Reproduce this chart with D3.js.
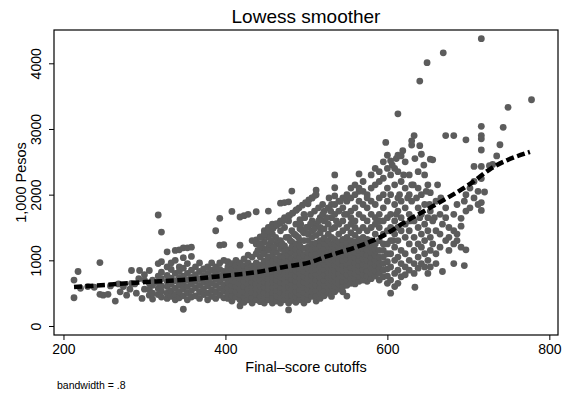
<!DOCTYPE html>
<html>
<head>
<meta charset="utf-8">
<script src="https://cdn.jsdelivr.net/npm/d3@7"></script>
<style>
  body { margin: 0; background: #fff; }
  text { font-family: Arial, "Liberation Sans", sans-serif; fill: #000; }
</style>
</head>
<body>
<script>
// scatter points: [cutoff, pesos]
const lowScores = [
  [213,430],[213,700],[218,830],[221,575],[230,600],[238,590],[245,965],[245,483],
  [249,470],[255,483],[258,610],[264,380],[268,640],[270,520],[274,600],[278,470],
  [282,560],[284,845],[284,650],[288,640],[290,500],[293,720],[294,845],[297,420],
  [300,560],[300,700],[300,780]
];

// columns of the denser cloud: [cutoff, [pesos...]]
const midColumns = [
  [306,[845,470,560,650]],
  [310,[410,500,620,700]],
  [317,[1690,950,480,570,660,760]],
  [321,[1430,980,440,530,610,720,820]],
  [328,[1130,900,420,500,600,680,770]],
  [333,[960,450,540,640,730,860]],
  [338,[1150,1000,400,480,580,690,800]],
  [343,[1160,900,430,520,620,730,830]],
  [348,[1190,255,1040,460,560,660,760,880]],
  [353,[1190,400,500,600,700,800,950]],
  [358,[1200,1060,440,540,640,740,850]],
  [363,[900,460,580,680,780]],
  [368,[960,420,520,620,720,830]],
  [373,[870,480,570,670,770]],
  [378,[900,400,500,610,700,800]],
  [383,[960,450,550,650,750,850]],
  [388,[1450,900,420,520,620,720,810]],
  [393,[1230,1640,960,470,570,670,760,860]],
  [398,[1240,1000,430,530,630,730,830]],
  [403,[980,420,500,580,660,740,820,900]],
  [408,[1745,950,380,460,540,620,700,780,860]],
  [413,[1000,440,520,600,680,760,840,920]],
  [418,[1660,1230,305,400,480,560,640,720,800,880,960]],
  [423,[1680,1020,360,440,520,600,680,760,840,920]],
  [428,[1700,1080,400,480,560,640,720,800,880,960]],
  [433,[1050,1300,350,430,510,590,670,750,830,910]],
  [438,[1740,1250,1100,400,480,560,640,720,800,880,960]],
  [443,[1350,1150,370,450,530,610,690,770,850,930,1050]],
  [448,[1450,1280,1100,350,430,510,590,670,750,830,910,990]],
  [453,[1750,1500,1350,1200,400,480,560,640,720,800,880,960,1050]],
  [458,[1550,1400,1150,350,430,510,590,670,750,830,910,990,1080]],
  [463,[1560,1250,380,460,540,620,700,780,860,940,1020,1120]],
  [468,[1870,1600,1450,1300,350,430,510,590,670,750,830,910,990,1070,1180]],
  [473,[1880,1650,1500,1220,400,480,560,640,720,800,880,960,1050,1130]],
  [478,[245,1890,1600,1350,350,430,510,590,670,750,830,910,990,1070,1160]],
  [482,[2055,1450,1280,390,470,550,630,710,790,870,950,1030,1120,1200]],
  [487,[1550,1380,360,440,520,600,680,760,840,920,1000,1080,1170,1250]],
  [492,[1620,1300,1480,400,480,560,640,720,800,880,960,1040,1130,1220]],
  [497,[1700,1420,350,430,510,590,670,750,830,910,990,1080,1180,1300]],
  [502,[1860,1500,400,480,560,640,720,800,880,960,1040,1120,1200,1300,1400]],
  [507,[1950,1600,1350,450,530,610,690,770,850,930,1010,1090,1170,1250,1450]],
  [512,[2070,2000,1550,1380,380,460,540,620,700,780,860,940,1020,1100,1180,1260]],
  [517,[1500,1650,420,500,580,660,740,820,900,980,1060,1140,1220,1300,1420]],
  [522,[1750,1480,460,540,620,700,780,860,940,1020,1100,1180,1260,1340,1600]],
  [527,[1800,1550,500,580,660,740,820,900,980,1060,1140,1220,1300,1400]],
  [531,[1850,1650,1480,450,530,610,690,770,850,930,1010,1090,1170,1250,1350]],
  [535,[2300,2105,1980,1700,520,600,680,760,840,920,1000,1080,1160,1240,1320,1500]],
  [540,[1750,1550,560,640,720,800,880,960,1040,1120,1200,1280,1400]],
  [545,[1800,1600,520,600,680,760,840,920,1000,1080,1160,1240,1320,1450]],
  [550,[455,1900,1700,620,700,780,860,940,1020,1100,1180,1260,1350,1500]],
  [555,[1950,1750,1550,650,730,810,890,970,1050,1130,1210,1300,1420]],
  [560,[2000,1800,1600,640,720,800,880,960,1040,1120,1200,1280,1380,1500]],
  [565,[2315,1900,1700,680,760,840,920,1000,1080,1160,1240,1320,1450]],
  [570,[2050,1850,1650,700,780,860,940,1020,1100,1180,1260,1350,1500]],
  [575,[1800,1600,680,760,840,920,1000,1080,1160,1240,1320,1450]],
  [580,[2100,1900,1700,720,800,880,960,1040,1120,1200,1300,1500]],
  [585,[2150,1850,1650,760,840,920,1000,1080,1160,1250,1400]],
  [590,[2200,1950,1700,700,800,880,960,1050,1150,1300,1500]],
  [595,[2250,2000,1800,750,850,950,1050,1150,1250,1400,1600]],
  [598,[2795]],
  [600,[2400,2100,1900,650,760,870,980,1100,1250,1450,1650]]
];

// upper streaks and filler above the main cloud
const upperCloud = [
  [447,1370],[451,1410],[455,1450],[459,1490],[463,1530],[467,1560],[471,1600],[475,1640],
  [479,1680],[483,1720],[487,1760],[491,1800],[495,1840],[499,1880],[503,1920],[507,1950],
  [511,1990],[438,1310],[443,1355],[448,1400],[453,1450],[458,1495],[463,1540],[468,1590],
  [473,1630],[478,1680],[483,1720],[488,1770],
  [440,1150],[445,1200],[450,1160],[455,1250],[460,1200],[465,1300],[470,1250],[475,1350],
  [480,1300],[485,1400],[490,1350],[495,1450],[500,1500],[505,1550],[510,1480],[515,1600],
  [520,1700],[525,1650],[530,1750],[535,1850],[540,1900],[545,1950],[550,2000],[555,2100],
  [560,2150],[565,2050],[570,2200],[575,2000],[580,2300],[585,2400],[590,2350],[595,2500],
  [600,2600],[606,2450],[611,2550],[590,1600],[585,1550],[575,1950],[565,2100],[555,1650],
  [547,1700],[542,1900],[537,1600],[528,1950],[520,1850],[515,1800],[510,1750],[505,1700],
  [498,1650],[493,1550],[462,1350],[457,1300],[452,1150],[447,1100],[442,1250],
  [607,1300],[611,1700],[615,2000],[620,2300],[625,1950],[628,1600],[632,2150],[636,1950],
  [640,1650],[645,2450],[648,2050],[652,1850],[658,1650],[662,2150],[666,1950]
];

const highColumns = [
  [604,[500,2515,2300,2000,1700,1500,1300,1100,900,700]],
  [609,[2400,2150,1850,1600,1400,1200,1000,800,600]],
  [613,[3230,2600,2350,1950,1750,1500,1300,1050,850,650]],
  [617,[2590,2200,1900,1650,1450,1150,950,750]],
  [619,[2670]],
  [622,[2500,2100,1800,1550,1350,1100,900,780]],
  [627,[2300,2000,1700,1450,1250,1000,850]],
  [630,[2755,2820,2150,1900]],
  [633,[2900,1600,1350,1150,950,800]],
  [634,[590,2550]],
  [638,[2350,2100,1800,1500,1250,1050,880]],
  [640,[3730,2745]],
  [642,[2615,2000,1700,1400,1200,950]],
  [646,[2300,1850,1550,1300,1100,900]],
  [649,[4010]],
  [650,[2150,1650,1450,1000,800]],
  [653,[2540,2030,1750,1350,1150,900]],
  [656,[2530,1600,1250]],
  [660,[1900,1450,1100,950]],
  [665,[1700,1400,1200]],
  [668,[830,1550]],
  [669,[4160]],
  [672,[2900,1800,1650,1300]],
  [676,[1500,1350,1150]],
  [682,[2900,950,1700,1450,1250]],
  [686,[1850,1400,1300]],
  [691,[1640,1200,1520]],
  [695,[920,1900]],
  [697,[2835,1750,2000,1160]],
  [702,[2100,1800]],
  [707,[2430,1950,2200]],
  [712,[1850,2050]],
  [716,[4375,3040,2900,2850,2680,2430,2245,1880,1760]],
  [720,[2040]],
  [726,[2440]],
  [730,[2460]],
  [735,[2590]],
  [739,[2760]],
  [743,[3025]],
  [749,[3330]],
  [778,[3445]]
];

// lowess smoother (bandwidth .8)
const lowessX = [213, 256, 301, 346, 391, 435, 480, 503, 525, 570, 597, 624, 660, 704, 727, 776];
const lowessY = [595, 630, 670, 700, 755, 815, 915, 965, 1060, 1240, 1390, 1600, 1850, 2180, 2390, 2650];

const xTicks = [200, 400, 600, 800];
const yTicks = [0, 1000, 2000, 3000, 4000];

const m = {
    width: 569,
    height: 393,
    left: 54,
    right: 558,
    top: 30,
    bottom: 335
}

const points = lowScores
    .concat(midColumns.flatMap(c => c[1].map(v => [c[0], v])))
    .concat(upperCloud)
    .concat(highColumns.flatMap(c => c[1].map(v => [c[0], v])));

const svg = d3.select('body').append('svg')
    .attr('width', m.width)
    .attr('height', m.height)

const x = d3.scaleLinear()
    .domain([188.3, 810.7])
    .range([m.left, m.right])

const y = d3.scaleLinear()
    .domain([-137, 4507])
    .range([m.bottom, m.top])

// points
svg.append('g')
    .selectAll('circle')
    .data(points)
    .enter()
    .append('circle')
        .attr('cx', d => x(d[0]))
        .attr('cy', d => y(d[1]))
        .attr('r', 3.4)
        .attr('fill', '#5c5c5c')

// lowess line
const line = d3.line()
    .x(d => x(d[0]))
    .y(d => y(d[1]))
    .curve(d3.curveMonotoneX)

svg.append('path')
    .datum(lowessX.map((v, i) => [v, lowessY[i]]))
    .attr('d', line)
    .attr('fill', 'none')
    .attr('stroke', '#000')
    .attr('stroke-width', 4.5)
    .attr('stroke-dasharray', '8,3.5')

// frame
svg.append('rect')
    .attr('x', m.left)
    .attr('y', m.top)
    .attr('width', m.right - m.left)
    .attr('height', m.bottom - m.top)
    .attr('fill', 'none')
    .attr('stroke', '#000')
    .attr('stroke-width', 1.2)

// axes
const xAxis = svg.append('g')
    .attr('transform', `translate(0,${m.bottom})`)
    .call(d3.axisBottom(x).tickValues(xTicks).tickSize(5).tickPadding(4))
xAxis.select('.domain').remove()
xAxis.selectAll('text').style('font-size', '14px').attr('fill', '#000')
xAxis.selectAll('line').attr('stroke', '#000')

const yAxis = svg.append('g')
    .attr('transform', `translate(${m.left},0)`)
    .call(d3.axisLeft(y).tickValues(yTicks).tickSize(5).tickFormat(d3.format('d')))
yAxis.select('.domain').remove()
yAxis.selectAll('line').attr('stroke', '#000')
yAxis.selectAll('text')
    .attr('x', null)
    .attr('dy', null)
    .attr('text-anchor', 'middle')
    .attr('transform', 'translate(-13,0) rotate(-90)')
    .style('font-size', '14px')
    .attr('fill', '#000')

// titles
svg.append('text')
    .attr('x', (m.left + m.right) / 2)
    .attr('y', 23)
    .attr('text-anchor', 'middle')
    .style('font-size', '19px')
    .text('Lowess smoother')

svg.append('text')
    .attr('x', (m.left + m.right) / 2)
    .attr('y', 372)
    .attr('text-anchor', 'middle')
    .style('font-size', '14.5px')
    .text('Final\u2013score cutoffs')

svg.append('text')
    .attr('transform', `translate(26,${(m.top + m.bottom) / 2}) rotate(-90)`)
    .attr('text-anchor', 'middle')
    .style('font-size', '14.5px')
    .text('1,000 Pesos')

svg.append('text')
    .attr('x', 57)
    .attr('y', 389)
    .style('font-size', '10.5px')
    .text('bandwidth = .8')
</script>
</body>
</html>
